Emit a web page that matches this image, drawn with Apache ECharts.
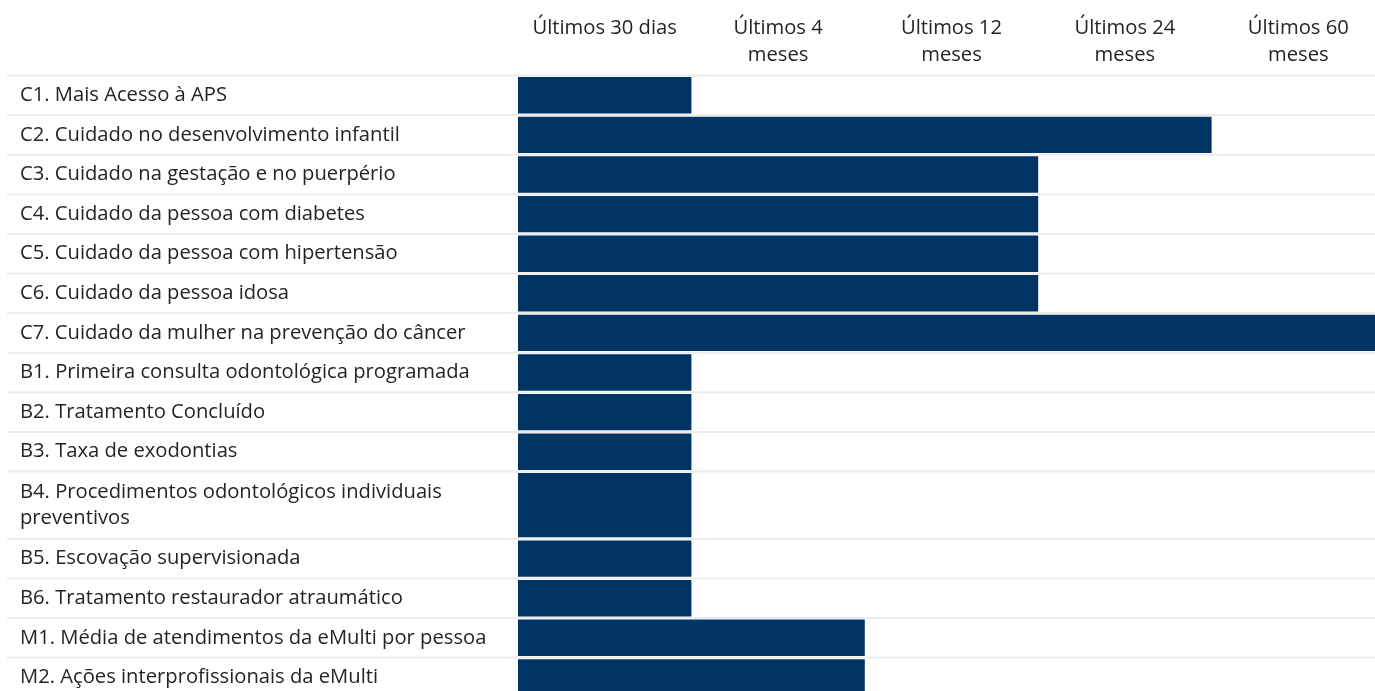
<!DOCTYPE html>
<html>
<head>
<meta charset="utf-8">
<script src="https://cdn.jsdelivr.net/npm/echarts@6/dist/echarts.min.js"></script>
<style>
html,body{margin:0;padding:0;background:#fff;}
#chart{width:1375px;height:691px;}
</style>
</head>
<body>
<div id="chart"></div>
<script>
// ---- data ----
const rowLabels = [
  "C1. Mais Acesso à APS",
  "C2. Cuidado no desenvolvimento infantil",
  "C3. Cuidado na gestação e no puerpério",
  "C4. Cuidado da pessoa com diabetes",
  "C5. Cuidado da pessoa com hipertensão",
  "C6. Cuidado da pessoa idosa",
  "C7. Cuidado da mulher na prevenção do câncer",
  "B1. Primeira consulta odontológica programada",
  "B2. Tratamento Concluído",
  "B3. Taxa de exodontias",
  "B4. Procedimentos odontológicos individuais\npreventivos",
  "B5. Escovação supervisionada",
  "B6. Tratamento restaurador atraumático",
  "M1. Média de atendimentos da eMulti por pessoa",
  "M2. Ações interprofissionais da eMulti"
];
// number of period columns covered (1 = Últimos 30 dias ... 5 = Últimos 60 meses)
const periodsCovered = [1, 4, 3, 3, 3, 3, 5, 1, 1, 1, 1, 1, 1, 2, 2];
const periodLabels = ["Últimos 30 dias", "Últimos 4\nmeses", "Últimos 12\nmeses", "Últimos 24\nmeses", "Últimos 60\nmeses"];

// ---- layout helpers (row bands derived from label line counts) ----
const ROW_PX = 39.6;
const EXTRA_LINE = 0.7; // additional row units per extra label line
const rowStart = [], rowEnd = [];
let acc = 0;
rowLabels.forEach(l => {
  const lines = l.split("\n").length;
  rowStart.push(acc);
  acc += 1 + EXTRA_LINE * (lines - 1);
  rowEnd.push(acc);
});
const totalUnits = acc;

const FONT = "'Open Sans', 'Noto Sans', sans-serif";
const FS = 20.2;
const TEXT = "#252423";
const BAR = "#003462";

const chart = echarts.init(document.getElementById('chart'), null, {renderer: 'canvas'});
chart.setOption({
  animation: false,
  backgroundColor: '#fff',
  grid: {
    left: 518, top: 75.5, width: 867, height: totalUnits * ROW_PX,
    containLabel: false, outerBoundsMode: 'none'
  },
  xAxis: [
    {type: 'value', min: 0, max: periodLabels.length, show: false},
    {
      type: 'category', position: 'top', data: periodLabels, boundaryGap: true,
      axisLine: {show: false}, axisTick: {show: false}, splitLine: {show: false},
      axisLabel: {
        interval: 0, margin: 61, verticalAlign: 'top', align: 'center',
        color: TEXT, fontFamily: FONT, fontSize: FS, lineHeight: 27
      }
    }
  ],
  yAxis: {type: 'value', inverse: true, min: 0, max: totalUnits, show: false},
  series: [{
    type: 'custom',
    clip: false,
    xAxisIndex: 0,
    data: periodsCovered.map((v, i) => [i, v]),
    encode: {x: 1, y: 0},
    renderItem: function (params, api) {
      const i = api.value(0);
      const v = api.value(1);
      const p0 = api.coord([0, rowStart[i]]);
      const p1 = api.coord([v, rowEnd[i]]);
      const width = api.getWidth();
      const children = [
        {
          type: 'line', z2: 1,
          shape: {x1: 7, y1: p0[1], x2: width, y2: p0[1]},
          style: {stroke: '#ececec', lineWidth: 2}
        },
        {
          type: 'rect', z2: 2,
          shape: {x: p0[0], y: p0[1] + 1.6, width: p1[0] - p0[0], height: p1[1] - p0[1] - 3.2},
          style: {fill: BAR}
        },
        {
          type: 'text', z2: 3,
          style: {
            x: 20, y: (p0[1] + p1[1]) / 2,
            text: rowLabels[i],
            fill: TEXT, font: FS + 'px ' + FONT,
            lineHeight: 26, verticalAlign: 'middle', align: 'left'
          }
        }
      ];
      return {type: 'group', children: children};
    }
  }]
});
</script>
</body>
</html>
